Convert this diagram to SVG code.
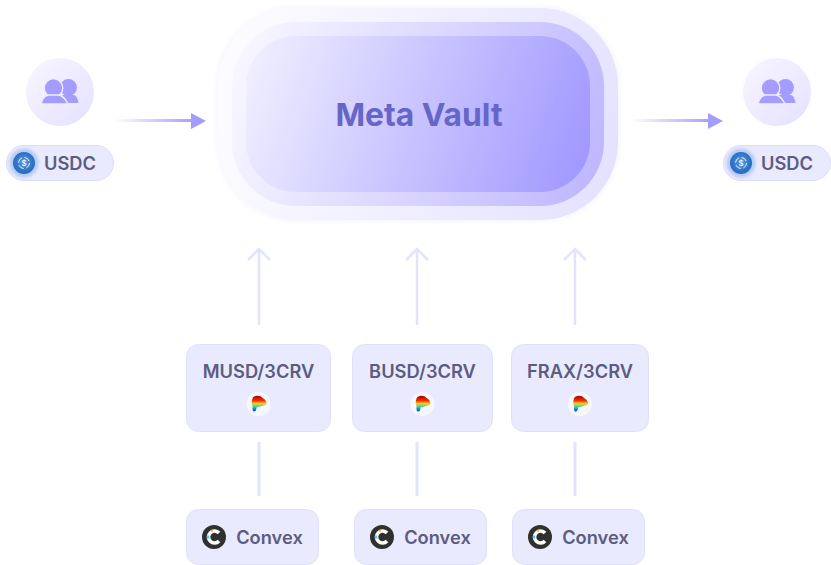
<svg xmlns="http://www.w3.org/2000/svg" width="831" height="565" viewBox="0 0 831 565">
<defs>
<linearGradient id="g0" gradientUnits="userSpaceOnUse" x1="218" y1="50" x2="618" y2="180"><stop offset="0" stop-color="#fdfdff"/><stop offset="1" stop-color="#e4e1ff"/></linearGradient>
<linearGradient id="g1" gradientUnits="userSpaceOnUse" x1="232" y1="50" x2="604" y2="180"><stop offset="0" stop-color="#f9f8ff"/><stop offset="1" stop-color="#bdb6ff"/></linearGradient>
<linearGradient id="g2" gradientUnits="userSpaceOnUse" x1="246" y1="60" x2="590" y2="175"><stop offset="0" stop-color="#f1efff"/><stop offset="1" stop-color="#9f97ff"/></linearGradient>
<linearGradient id="gu" x1="0" y1="0" x2="1" y2="1"><stop offset="0" stop-color="#f8f7ff"/><stop offset="1" stop-color="#e4e0ff"/></linearGradient>
<linearGradient id="ga" x1="0" y1="0" x2="1" y2="0"><stop offset="0" stop-color="#a49cff" stop-opacity="0"/><stop offset="1" stop-color="#a49cff"/></linearGradient>
<linearGradient id="gc" x1="0" y1="0" x2="0" y2="1"><stop offset="0" stop-color="#a80000"/><stop offset=".3" stop-color="#f03000"/><stop offset=".5" stop-color="#f8d020"/><stop offset=".7" stop-color="#30d8a0"/><stop offset="1" stop-color="#0828ff"/></linearGradient>
<radialGradient id="gb" cx=".5" cy=".45" r=".5"><stop offset="0" stop-color="#5a9ae0"/><stop offset=".8" stop-color="#2f74c6"/><stop offset="1" stop-color="#2a6cc0"/></radialGradient>
<filter id="blur" x="-30%" y="-30%" width="160%" height="160%"><feGaussianBlur stdDeviation="1.500"/></filter>
<filter id="soft" x="-10%" y="-10%" width="120%" height="120%"><feGaussianBlur stdDeviation="3"/></filter>
<g id="user"><circle cx="8.500" cy="-3.500" r="8.500"/><path d="M2 4H14C17 5 18 9 18.500 12H-4Z"/><g stroke="#efedff" stroke-width="1.300"><circle cx="-6.500" cy="-3" r="9.300"/><path d="M-12 4H-1C4 5 6 9 8 13H-19C-18 9-16 5-12 4Z"/></g></g>
<g id="coin"><circle r="14.500" fill="#a9c4f2" opacity=".8" filter="url(#blur)"/><circle r="11" fill="url(#gb)"/><circle r="5.500" fill="none" stroke="#fff" stroke-width="1" stroke-dasharray="6 2.600" opacity=".9"/><text y="2.500" class="dollar">$</text></g>
<g id="curve"><circle r="12" fill="#f6f7ff"/><path d="M-6-5.500C-5-9 2-9 4-6C7-4.500 8-2 8-.5C8 1.500-1 3-2 3.500C-2 6-3 7.500-4.500 7.500C-6.500 7-6 4-6 2C-7 0-7-3-6-5.500Z" fill="url(#gc)"/></g>
<g id="cvx"><circle r="12" fill="#30302f"/><path d="M5-4A6 6 0 1 0 5 4" fill="none" stroke="#fff" stroke-width="3.600"/><path d="M-6-1.500V1.500" stroke="#5cc8f0" stroke-width="2.500"/><path d="M-3-6L-1-6.500" stroke="#f4c430" stroke-width="2"/></g>
<g id="up"><path d="M0 77V1M-11 12L0 1L11 12" fill="none" stroke="#e2e3fc" stroke-width="2.500"/></g>
<style>
text{font-family:"Inter","Liberation Sans",sans-serif}
.lbl{font-size:18.300px;font-weight:600;fill:#5c5c82;text-anchor:middle}
.dollar{font-size:8px;fill:#fff;text-anchor:middle;font-weight:500}
.card{fill:#eaeafe;stroke:#e0e0fb;stroke-width:1}
.pill{fill:#eaeafe;stroke:#dcdcfa;stroke-width:1}
.stem{stroke:#e2e3fc;stroke-width:3;fill:none}
.head{fill:#a49cff}
.ucirc{fill:url(#gu)}
</style>
</defs>
<rect width="831" height="565" fill="#fff"/>
<g id="connectors">
<rect x="113" y="119" width="82" height="3" fill="url(#ga)"/><path class="head" d="M191 113L206 121L191 129Z"/>
<rect x="630" y="119" width="82" height="3" fill="url(#ga)"/><path class="head" d="M708 113L723 121L708 129Z"/>
<use href="#up" x="259" y="248"/><use href="#up" x="417" y="248"/><use href="#up" x="575" y="248"/>
<path class="stem" d="M259 442V496M417 442V496M575 442V496"/>
</g>
<g id="meta-vault">
<rect x="218" y="8" width="400" height="212" rx="78" fill="#ebe9ff" opacity=".7" filter="url(#soft)"/>
<rect x="218" y="8" width="400" height="212" rx="78" fill="url(#g0)"/>
<rect x="232" y="22" width="372" height="184" rx="64" fill="url(#g1)"/>
<rect x="246" y="36" width="344" height="156" rx="50" fill="url(#g2)"/>
<text x="419" y="126" fill="#6666c8" text-anchor="middle" style="font-size:31.800px;font-weight:700">Meta Vault</text>
</g>
<g id="user-left"><circle class="ucirc" cx="60" cy="92" r="34"/><use href="#user" x="60" y="91" fill="#a49cff"/></g>
<g id="usdc-left"><rect class="pill" x="6.500" y="145.500" width="107" height="35" rx="17.500"/><use href="#coin" x="24" y="163"/><text class="lbl" x="70" y="169.500">USDC</text></g>
<g id="user-right"><circle class="ucirc" cx="777" cy="92" r="34"/><use href="#user" x="777" y="91" fill="#a49cff"/></g>
<g id="usdc-right"><rect class="pill" x="723.500" y="145.500" width="107" height="35" rx="17.500"/><use href="#coin" x="741" y="163"/><text class="lbl" x="787" y="169.500">USDC</text></g>
<g id="musd"><rect class="card" x="186.500" y="344.500" width="144" height="87" rx="12"/><text class="lbl" x="258.500" y="378">MUSD/3CRV</text><use href="#curve" x="258.500" y="404"/></g>
<g id="busd"><rect class="card" x="352.500" y="344.500" width="140" height="87" rx="12"/><text class="lbl" x="422.500" y="378">BUSD/3CRV</text><use href="#curve" x="422.500" y="404"/></g>
<g id="frax"><rect class="card" x="511.500" y="344.500" width="137" height="87" rx="12"/><text class="lbl" x="580" y="378">FRAX/3CRV</text><use href="#curve" x="580" y="404"/></g>
<g id="convex-1"><rect class="card" x="186.500" y="509.500" width="132" height="55" rx="12"/><use href="#cvx" x="214" y="537"/><text class="lbl" x="269.500" y="543.500">Convex</text></g>
<g id="convex-2"><rect class="card" x="354.500" y="509.500" width="132" height="55" rx="12"/><use href="#cvx" x="382" y="537"/><text class="lbl" x="437.500" y="543.500">Convex</text></g>
<g id="convex-3"><rect class="card" x="512.500" y="509.500" width="132" height="55" rx="12"/><use href="#cvx" x="540" y="537"/><text class="lbl" x="595.500" y="543.500">Convex</text></g>
</svg>
